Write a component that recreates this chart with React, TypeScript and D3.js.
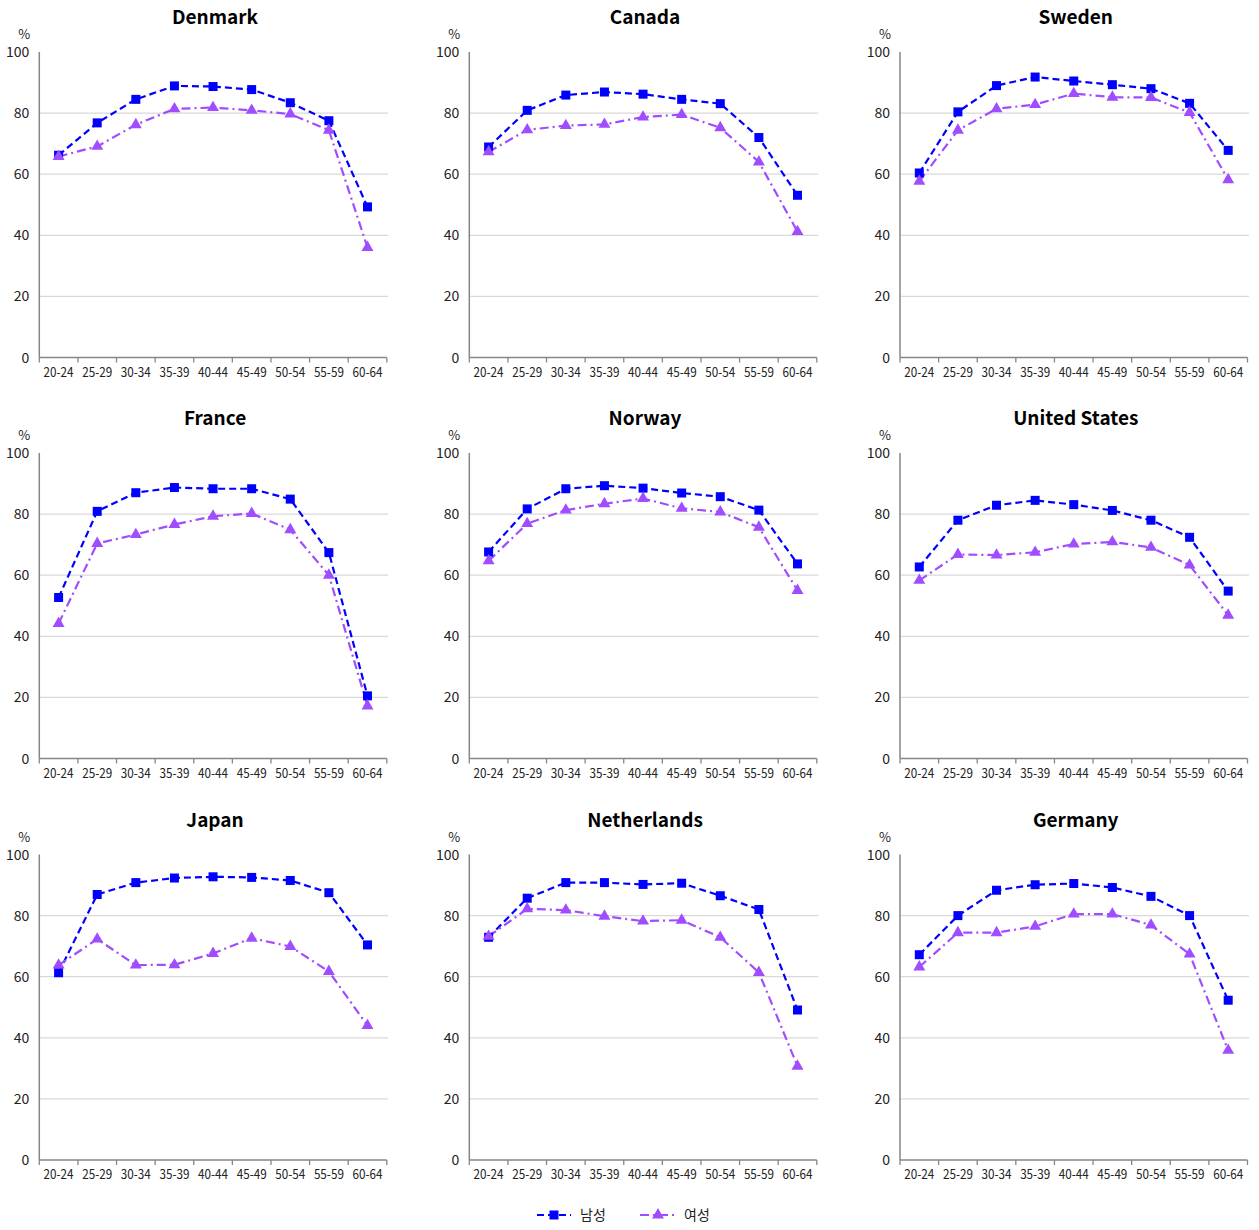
import React from "react";
import * as d3 from "d3";

const ageGroups = ["20-24", "25-29", "30-34", "35-39", "40-44", "45-49", "50-54", "55-59", "60-64"];
const yTicks = [0, 20, 40, 60, 80, 100];
const countries = ["Denmark", "Canada", "Sweden", "France", "Norway", "United States", "Japan", "Netherlands", "Germany"];

const denmarkMale = [66.2, 76.8, 84.5, 88.9, 88.7, 87.7, 83.4, 77.5, 49.3];
const denmarkFemale = [65.8, 69.1, 76.2, 81.4, 81.8, 80.9, 79.7, 74.4, 36.0];
const canadaMale = [68.9, 80.9, 85.9, 86.9, 86.2, 84.5, 83.1, 72.0, 53.1];
const canadaFemale = [67.3, 74.5, 75.9, 76.3, 78.7, 79.5, 75.2, 64.0, 41.2];
const swedenMale = [60.4, 80.4, 89.0, 91.8, 90.5, 89.3, 88.0, 83.2, 67.8];
const swedenFemale = [57.7, 74.4, 81.4, 82.8, 86.4, 85.2, 85.1, 80.2, 58.2];
const franceMale = [52.7, 80.9, 87.0, 88.7, 88.3, 88.3, 84.9, 67.4, 20.5];
const franceFemale = [44.2, 70.4, 73.3, 76.6, 79.3, 80.2, 74.9, 60.0, 17.2];
const norwayMale = [67.6, 81.7, 88.3, 89.3, 88.5, 86.9, 85.7, 81.3, 63.7];
const norwayFemale = [64.7, 76.9, 81.3, 83.4, 85.1, 81.9, 80.7, 75.7, 55.0];
const usMale = [62.7, 78.0, 82.9, 84.5, 83.1, 81.2, 78.0, 72.4, 54.8];
const usFemale = [58.3, 66.8, 66.6, 67.5, 70.2, 70.9, 69.1, 63.3, 46.9];
const japanMale = [61.3, 86.9, 90.8, 92.3, 92.7, 92.5, 91.5, 87.5, 70.4];
const japanFemale = [63.8, 72.3, 63.8, 63.9, 67.6, 72.6, 69.9, 61.7, 44.0];
const netherlandsMale = [72.9, 85.7, 90.8, 90.8, 90.2, 90.6, 86.5, 82.0, 49.1];
const netherlandsFemale = [73.2, 82.2, 81.8, 79.8, 78.2, 78.5, 72.9, 61.4, 30.7];
const germanyMale = [67.2, 80.0, 88.3, 90.1, 90.5, 89.2, 86.3, 80.0, 52.3];
const germanyFemale = [63.2, 74.4, 74.4, 76.5, 80.5, 80.5, 76.9, 67.4, 35.9];

const maleSeries = [denmarkMale, canadaMale, swedenMale, franceMale, norwayMale, usMale, japanMale, netherlandsMale, germanyMale];
const femaleSeries = [denmarkFemale, canadaFemale, swedenFemale, franceFemale, norwayFemale, usFemale, japanFemale, netherlandsFemale, germanyFemale];
const seriesNames = ["남성", "여성"];

const MALE_COLOR = "#0000ff";
const FEMALE_COLOR = "#a04cff";
const AXIS_COLOR = "#868686";
const GRID_COLOR = "#d9d9d9";
const FONT = "'Noto Sans CJK KR', 'Noto Sans', sans-serif";

const colX = [39.3, 469.3, 900];
const rowY = [52, 453, 854.5];
const PW = 347.5;
const PH = 305.5;

function Square({ x, y }: { x: number; y: number }) {
  return <rect x={x - 4.5} y={y - 4.5} width={9} height={9} fill={MALE_COLOR} />;
}
function Triangle({ x, y }: { x: number; y: number }) {
  const tri = d3.symbol().type(d3.symbolTriangle).size(62)();
  return <path d={tri as string} transform={`translate(${x},${y})`} fill={FEMALE_COLOR} />;
}

function Panel({ idx }: { idx: number }) {
  const ox = colX[idx % 3];
  const oy = rowY[Math.floor(idx / 3)];
  const x = d3.scaleBand<string>().domain(ageGroups).range([ox, ox + PW]);
  const y = d3.scaleLinear().domain([0, 100]).range([oy + PH, oy]);
  const cx = (g: string) => (x(g) as number) + x.bandwidth() / 2;
  const line = d3.line<number>().x((_, i) => cx(ageGroups[i])).y((v) => y(v));
  const male = maleSeries[idx];
  const female = femaleSeries[idx];
  const boundaries = ageGroups.map((g) => x(g) as number).concat([ox + PW]);
  return (
    <g>
      <text x={ox + PW / 2 + 2} y={oy - 28} textAnchor="middle" fontFamily={FONT} fontWeight={700} fontSize={19} fill="#000">
        {countries[idx]}
      </text>
      <text x={ox - 15} y={oy - 13} textAnchor="middle" fontFamily={FONT} fontSize={13} fill="#222">%</text>
      {yTicks.filter((t) => t > 0 && t < 100).map((t) => (
        <line key={"g" + t} x1={ox} x2={ox + PW + 1.5} y1={y(t)} y2={y(t)} stroke={GRID_COLOR} strokeWidth={1.3} />
      ))}
      {yTicks.map((t) => (
        <text key={"yt" + t} x={ox - 10} y={y(t) + 5} textAnchor="end" fontFamily={FONT} fontSize={14} fill="#222">
          {t}
        </text>
      ))}
      <line x1={ox} x2={ox} y1={oy} y2={oy + PH} stroke={AXIS_COLOR} strokeWidth={1.5} />
      <line x1={ox} x2={ox + PW} y1={oy + PH} y2={oy + PH} stroke={AXIS_COLOR} strokeWidth={1.5} />
      {boundaries.map((b, i) => (
        <line key={"xt" + i} x1={b} x2={b} y1={oy + PH} y2={oy + PH + 5} stroke={AXIS_COLOR} strokeWidth={1.3} />
      ))}
      {ageGroups.map((g) => (
        <text key={"xl" + g} x={cx(g)} y={oy + PH + 19} textAnchor="middle" fontFamily={FONT} fontSize={13}
          textLength={30} lengthAdjust="spacingAndGlyphs" fill="#222">
          {g}
        </text>
      ))}
      <path d={line(male) as string} fill="none" stroke={MALE_COLOR} strokeWidth={2.2} strokeDasharray="7,4" />
      <path d={line(female) as string} fill="none" stroke={FEMALE_COLOR} strokeWidth={2.2} strokeDasharray="9,4,2,4" />
      {male.map((v, i) => <Square key={"m" + i} x={cx(ageGroups[i])} y={y(v)} />)}
      {female.map((v, i) => <Triangle key={"f" + i} x={cx(ageGroups[i])} y={y(v)} />)}
    </g>
  );
}

export default function App() {
  const ly = 1215;
  return (
    <svg width={1259} height={1230} style={{ display: "block", position: "absolute", left: 0, top: 0, background: "#fff" }}>
      <rect width={1259} height={1230} fill="#fff" />
      {countries.map((_, i) => <Panel key={i} idx={i} />)}
      <g>
        <line x1={537} x2={571} y1={ly} y2={ly} stroke={MALE_COLOR} strokeWidth={2.2} strokeDasharray="7,4" />
        <Square x={554} y={ly} />
        <text x={580} y={ly + 5} fontFamily={FONT} fontSize={14} fill="#222">{seriesNames[0]}</text>
        <line x1={640} x2={675} y1={ly} y2={ly} stroke={FEMALE_COLOR} strokeWidth={2.2} strokeDasharray="9,4,2,4" />
        <Triangle x={658} y={ly} />
        <text x={684} y={ly + 5} fontFamily={FONT} fontSize={14} fill="#222">{seriesNames[1]}</text>
      </g>
    </svg>
  );
}
